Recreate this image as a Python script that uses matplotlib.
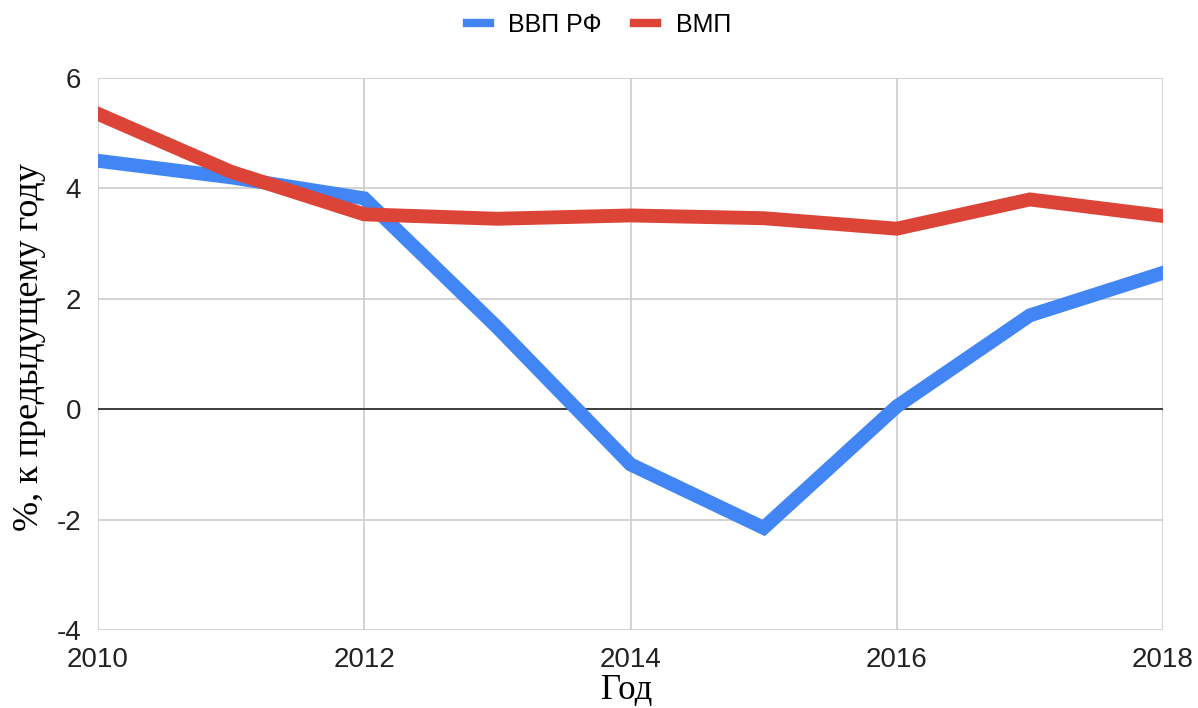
import matplotlib.pyplot as plt
from matplotlib.lines import Line2D

plt.rcParams['axes.unicode_minus'] = False

years = [2010, 2011, 2012, 2013, 2014, 2015, 2016, 2017, 2018]
gdp_rf = [4.5, 4.2, 3.82, 1.48, -1.0, -2.15, 0.05, 1.7, 2.47]
vmp = [5.35, 4.3, 3.53, 3.45, 3.51, 3.46, 3.27, 3.8, 3.5]
x_ticks = [2010, 2012, 2014, 2016, 2018]
y_ticks = [-4, -2, 0, 2, 4, 6]

blue = '#4285f4'
red = '#db4437'

fig = plt.figure(figsize=(11.98, 7.08), dpi=100)
ax = fig.add_axes([98 / 1198, 78 / 708, (1163 - 98) / 1198, (630 - 78) / 708])

ax.plot(years, gdp_rf, color=blue, lw=10, solid_joinstyle='miter', zorder=3)
ax.plot(years, vmp, color=red, lw=10, solid_joinstyle='miter', zorder=4)
ax.axhline(0, color='#333333', lw=1.3, zorder=2)

ax.set_xlim(2010, 2018)
ax.set_ylim(-4, 6)
ax.set_xticks(x_ticks)
ax.set_yticks(y_ticks)
ax.grid(True, color='#cccccc', lw=1.2, zorder=0)
ax.set_axisbelow(True)
for s in ax.spines.values():
    s.set_visible(False)
ax.tick_params(length=0, labelsize=20, labelcolor='#222222', pad=12)
for lab in ax.get_xticklabels() + ax.get_yticklabels():
    lab.set_family('Liberation Sans')

# axis titles placed by hand, as in the reference
fig.text(627 / 1198, 1 - 690 / 708, 'Год', family='Liberation Serif', fontsize=25,
         ha='center', va='center')
fig.text(30 / 1198, 1 - 347 / 708, '%, к предыдущему году', family='Liberation Serif',
         fontsize=26, rotation=90, ha='center', va='center')

handles = [Line2D([], [], color=blue, lw=6), Line2D([], [], color=red, lw=6)]
fig.legend(handles, ['ВВП РФ', 'ВМП'], loc='center', bbox_to_anchor=(0.5, 1 - 25 / 708),
           ncol=2, frameon=False, prop={'family': 'Liberation Sans', 'size': 18},
           handlelength=0.9, handletextpad=0.75, columnspacing=1.3)

fig.savefig('out.png', dpi=100)
